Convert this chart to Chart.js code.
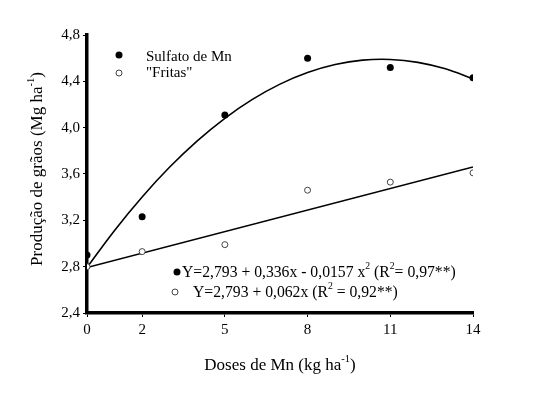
<!DOCTYPE html>
<html><head><meta charset="utf-8">
<script src="https://cdn.jsdelivr.net/npm/chart.js@4/dist/chart.umd.min.js"></script>
<style>html,body{margin:0;padding:0;background:#fff}#wrap{width:560px;height:397px}</style>
</head><body><div id="wrap"><canvas id="c" width="560" height="397"></canvas></div>
<script>
// Data
const doses = [0, 2, 5, 8, 11, 14];
const sulfato = [2.90, 3.23, 4.11, 4.60, 4.52, 4.43];
const fritas = [2.80, 2.93, 2.99, 3.46, 3.53, 3.61];
// fitted curve as drawn
const curveX = [0, 1, 2, 3, 4, 5, 6, 7, 8, 9, 10, 11, 12, 13, 14];
const curveSulfato = [2.793, 3.113, 3.402, 3.660, 3.886, 4.081, 4.244, 4.376, 4.476, 4.545, 4.583, 4.589, 4.564, 4.508, 4.420];
const lineX = [0, 14];
const lineFritas = [2.793, 3.661];
const xTicks = [0, 2, 5, 8, 11, 14];
const yTicks = [2.4, 2.8, 3.2, 3.6, 4.0, 4.4, 4.8];

const FONT = '"Liberation Serif", "Times New Roman", serif';
const pts = (xs, ys) => xs.map((x, i) => ({x, y: ys[i]}));

function supText(ctx, parts, x, y, size) {
  let cx = x;
  for (const [t, sup] of parts) {
    if (sup) {
      ctx.font = (size * 0.62) + 'px ' + FONT;
      ctx.fillText(t, cx, y - size * 0.42);
    } else {
      ctx.font = size + 'px ' + FONT;
      ctx.fillText(t, cx, y);
    }
    cx += ctx.measureText(t).width;
  }
  return cx - x;
}
function measureParts(ctx, parts, size) {
  let w = 0;
  for (const [t, sup] of parts) {
    ctx.font = (sup ? size * 0.62 : size) + 'px ' + FONT;
    w += ctx.measureText(t).width;
  }
  return w;
}

const annot = {
  id: 'annot',
  afterDraw(chart) {
    const ctx = chart.ctx;
    ctx.save();
    ctx.fillStyle = '#000';
    ctx.textBaseline = 'middle';
    ctx.textAlign = 'left';
    const dot = (x, y, filled) => {
      ctx.beginPath(); ctx.arc(x, y, filled ? 3.5 : 3, 0, Math.PI * 2);
      if (filled) { ctx.fillStyle = '#000'; ctx.fill(); }
      else { ctx.fillStyle = '#fff'; ctx.fill(); ctx.strokeStyle = '#444'; ctx.lineWidth = 1; ctx.stroke(); }
      ctx.fillStyle = '#000';
    };
    dot(119, 55, true); dot(119, 73, false);
    ctx.font = '15px ' + FONT;
    ctx.fillText('Sulfato de Mn', 146, 57);
    ctx.fillText('"Fritas"', 146, 73);
    dot(177, 272, true); dot(175, 292, false);
    const s = 15.7;
    supText(ctx, [['Y=2,793 + 0,336x - 0,0157 x', false], ['2', true], [' (R', false], ['2', true], ['= 0,97**)', false]], 182, 273, s);
    supText(ctx, [['Y=2,793 + 0,062x (R', false], ['2', true], [' = 0,92**)', false]], 193, 293, s);
    const ts = 17;
    const xt = [['Doses de Mn (kg ha', false], ['-1', true], [')', false]];
    const w = measureParts(ctx, xt, ts);
    supText(ctx, xt, 280 - w / 2, 366, ts);
    const yt = [['Produção de grãos (Mg ha', false], ['-1', true], [')', false]];
    const wy = measureParts(ctx, yt, ts);
    ctx.translate(38, 169);
    ctx.rotate(-Math.PI / 2);
    supText(ctx, yt, -wy / 2, 0, ts);
    ctx.restore();
  }
};

new Chart(document.getElementById('c'), {
  type: 'scatter',
  data: {
    datasets: [
      { data: pts(curveX, curveSulfato), showLine: true, borderColor: '#000', borderWidth: 1.6, pointRadius: 0, tension: 0.4, fill: false, order: 2 },
      { data: pts(lineX, lineFritas), showLine: true, borderColor: '#000', borderWidth: 1.6, pointRadius: 0, fill: false, order: 2 },
      { data: pts(doses, sulfato), pointRadius: 3.5, pointBackgroundColor: '#000', pointBorderColor: '#000', pointBorderWidth: 0, order: 1 },
      { data: pts(doses, fritas), pointRadius: 3, pointBackgroundColor: '#fff', pointBorderColor: '#444', pointBorderWidth: 1, order: 1 }
    ]
  },
  options: {
    responsive: false,
    animation: false,
    layout: { padding: { left: 0, right: 87, top: 35, bottom: 0 } },
    plugins: { legend: { display: false }, tooltip: { enabled: false } },
    scales: {
      x: {
        type: 'linear', min: 0, max: 14,
        afterBuildTicks: s => { s.ticks = xTicks.map(v => ({value: v})); },
        afterFit: s => { s.height = 84; },
        ticks: { color: '#000', font: { family: FONT, size: 15 }, padding: 4, maxRotation: 0, callback: v => String(v) },
        grid: { drawOnChartArea: false, drawTicks: true, tickLength: 4, color: '#000', lineWidth: 1 },
        border: { display: true, color: '#000', width: 3.5 }
      },
      y: {
        type: 'linear', min: 2.4, max: 4.8,
        afterBuildTicks: s => { s.ticks = yTicks.map(v => ({value: v})); },
        afterFit: s => { s.width = 87; },
        ticks: { color: '#000', font: { family: FONT, size: 15 }, padding: 3, callback: v => Number(v).toFixed(1).replace('.', ',') },
        grid: { drawOnChartArea: false, drawTicks: true, tickLength: 4, color: '#000', lineWidth: 1 },
        border: { display: true, color: '#000', width: 3.5 }
      }
    }
  },
  plugins: [annot]
});
</script></body></html>
